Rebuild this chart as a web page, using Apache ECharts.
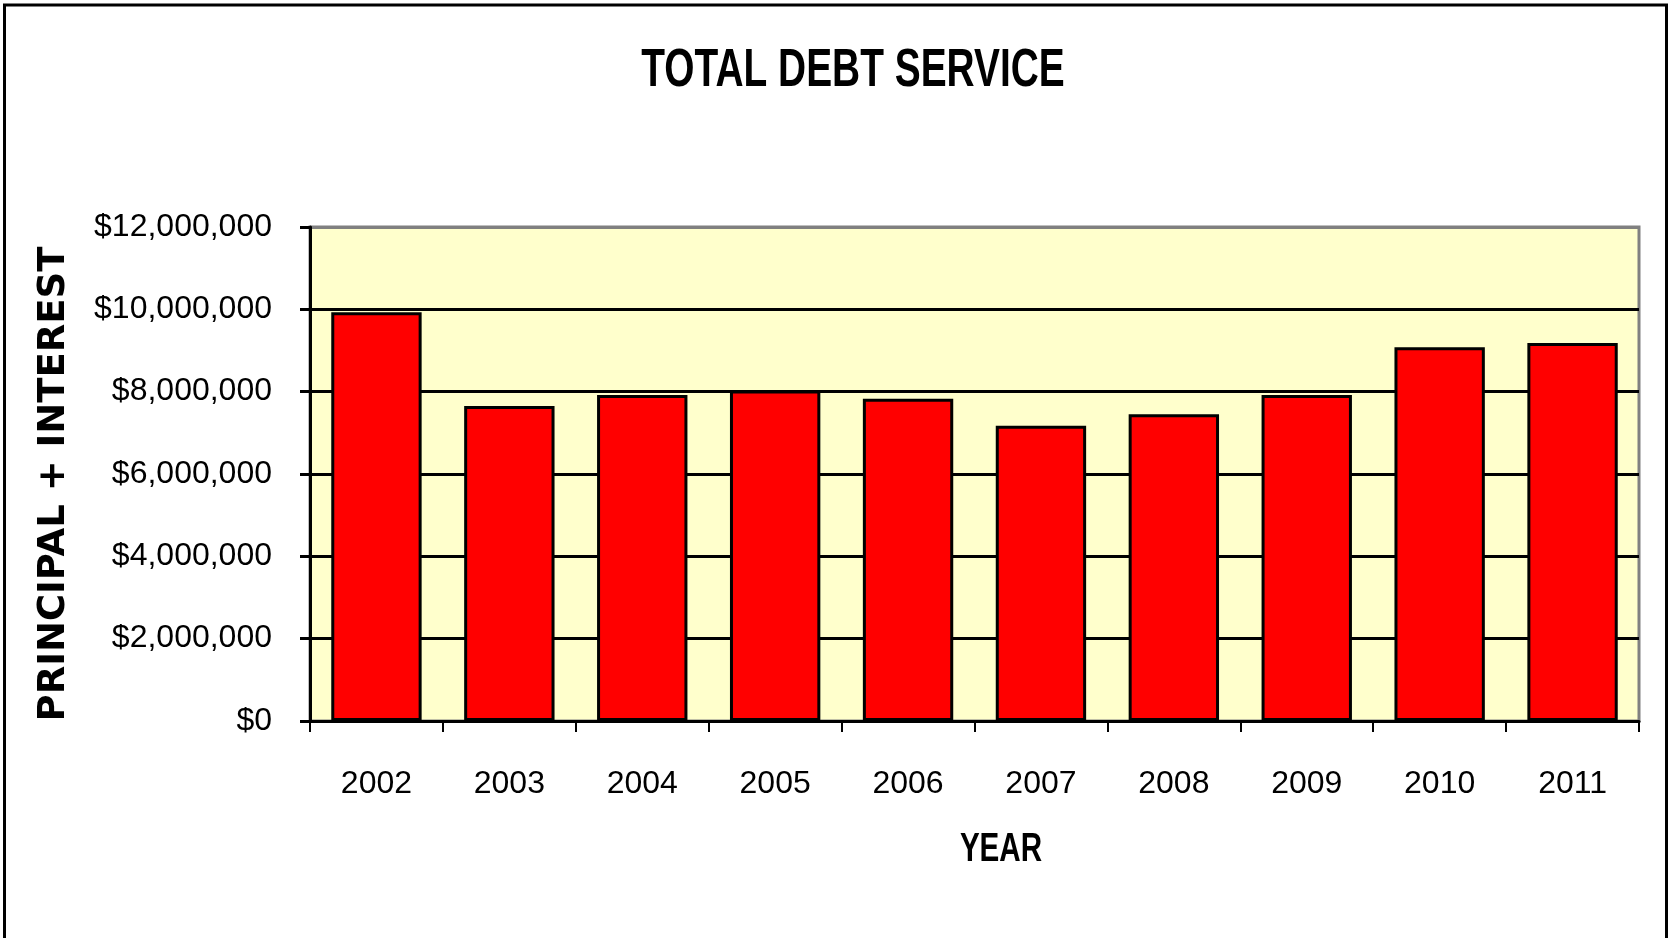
<!DOCTYPE html>
<html>
<head>
<meta charset="utf-8">
<script src="https://cdn.jsdelivr.net/npm/echarts@6/dist/echarts.min.js"></script>
<style>
html,body{margin:0;padding:0;background:#fff;}
#chart{width:1672px;height:938px;}
</style>
</head>
<body>
<div id="chart"></div>
<script>
const years = ['2002','2003','2004','2005','2006','2007','2008','2009','2010','2011'];
const debtService = [9930000, 7650000, 7920000, 8030000, 7830000, 7170000, 7450000, 7920000, 9080000, 9180000];
const yMin = 0, yMax = 12000000, yStep = 2000000;
const titleText = 'TOTAL DEBT SERVICE';
const yTitle = 'PRINCIPAL + INTEREST';
const xTitle = 'YEAR';

const chart = echarts.init(document.getElementById('chart'));
const sans = '"Liberation Sans", Arial, sans-serif';
function money(v){ return '$' + Math.round(v).toString().replace(/\B(?=(\d{3})+(?!\d))/g, ','); }

chart.setOption({
  animation: false,
  backgroundColor: '#ffffff',
  graphic: [
    {
      type: 'rect', z: 100, silent: true,
      shape: { x: 4.5, y: 5, width: 1662, height: 945 },
      style: { fill: null, stroke: '#000', lineWidth: 3 }
    },
    {
      type: 'text', x: 853, y: 71, scaleX: 0.72, silent: true,
      style: { text: titleText, fontFamily: sans, fontWeight: 'bold', fontSize: 54, fill: '#000', align: 'center', verticalAlign: 'middle' }
    },
    {
      type: 'text', x: 1001, y: 850, scaleX: 0.74, silent: true,
      style: { text: xTitle, fontFamily: sans, fontWeight: 'bold', fontSize: 40, fill: '#000', align: 'center', verticalAlign: 'middle' }
    }
  ],
  grid: {
    left: 310, right: 33, top: 227, bottom: 217,
    show: true, backgroundColor: '#FFFFCC', borderColor: '#808080', borderWidth: 3
  },
  xAxis: {
    type: 'category', data: years,
    axisLine: { lineStyle: { color: '#000', width: 3 } },
    axisTick: { show: true, length: 11, lineStyle: { color: '#000', width: 2 } },
    axisLabel: { fontFamily: sans, fontSize: 32, color: '#000', margin: 47 },
    splitLine: { show: false }
  },
  yAxis: {
    type: 'value', min: yMin, max: yMax, interval: yStep,
    name: yTitle, nameLocation: 'middle', nameRotate: 90, nameGap: 237,
    nameTextStyle: { fontFamily: '"DejaVu Sans", sans-serif', fontWeight: 'bold', fontSize: 37, color: '#000', padding: [0, 20, 0, 0] },
    axisLine: { show: true, lineStyle: { color: '#000', width: 3 } },
    axisTick: { show: true, length: 10, lineStyle: { color: '#000', width: 3 } },
    axisLabel: { fontFamily: sans, fontSize: 32, color: '#000', margin: 38, formatter: money },
    splitLine: { show: true, lineStyle: { color: ['#000','#000','#000','#000','#000','#000','#808080'], width: 3 } }
  },
  series: [{
    type: 'bar', data: debtService, barCategoryGap: '32%',
    itemStyle: { color: '#FF0000', borderColor: '#000', borderWidth: 3 }
  }]
});
</script>
</body>
</html>
